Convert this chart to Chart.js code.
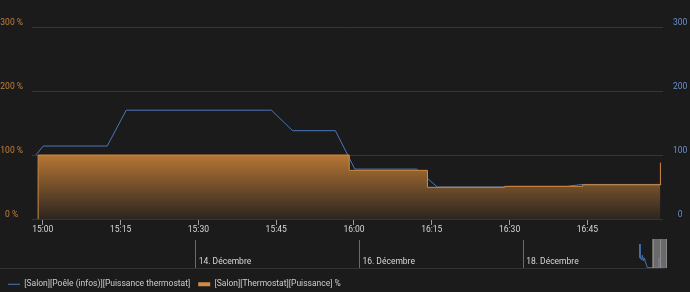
<!DOCTYPE html>
<html>
<head>
<meta charset="utf-8">
<script src="https://cdn.jsdelivr.net/npm/chart.js@4.4.1/dist/chart.umd.min.js"></script>
<style>
  html, body { margin: 0; padding: 0; background: #1b1b1b; overflow: hidden; }
  #wrap { position: relative; width: 690px; height: 292px; }
  #main { position: absolute; left: 0; top: 0; }
  #nav { position: absolute; left: 0; top: 236px; }
  #navLine { position: absolute; left: 0; top: 268px; width: 665px; height: 0; border-top: 1px solid #333; }
</style>
</head>
<body>
<div id="wrap">
  <div id="navLine"></div>
  <canvas id="main" width="690" height="292"></canvas>
  <canvas id="nav" width="690" height="36"></canvas>
</div>
<script>
        // Données (19 décembre)
        const blueLabel = '[Salon][Poêle (infos)][Puissance thermostat]';
        const blueTimes = ['14:58:40', '15:00:05', '15:12:25', '15:16:05', '15:44:05', '15:48:10', '15:56:25', '16:00:10', '16:12:05', '16:16:05', '16:28:30', '16:30:00', '16:41:00', '16:44:00', '16:59:15'];
        const blueValues = [100, 114, 114, 170, 170, 138, 138, 78, 78, 50, 50, 51, 51, 54, 54];

        const orangeLabel = '[Salon][Thermostat][Puissance] %';
        const orangeTimes = ['14:59:05', '14:59:06', '15:59:05', '16:14:10', '16:29:05', '16:44:05', '16:59:05'];
        const orangeValues = [0, 100, 76, 49.5, 51, 53.5, 88];

        const xMinTime = '14:57:55';
        const xMaxTime = '16:59:35';
        const tickLabels = ['15:00', '15:15', '15:30', '15:45', '16:00', '16:15', '16:30', '16:45'];
        const yTicks = [0, 100, 200, 300];

        // Navigateur (heures depuis le 12/12 00:00)
        const navStart = '12/12 00:00';
        const navEnd = '19/12 17:00';
        const navTickDays = ['14/12 00:00', '16/12 00:00', '18/12 00:00'];
        const navTickLabels = ['14. Décembre', '16. Décembre', '18. Décembre'];
        const navTimes = ['19/12 10:14', '19/12 10:15', '19/12 10:27', '19/12 10:45', '19/12 10:57', '19/12 11:15', '19/12 11:32', '19/12 11:50', '19/12 12:08', '19/12 12:25', '19/12 15:47', '19/12 15:49', '19/12 15:52', '19/12 16:58'];
        const navValues = [154, 64, 64, 51, 82, 47, 64, 39, 21, 2, 2, 66, 8, 8];
        const navDay = '19/12';

        const FONT = { family: 'Roboto', size: 8.5 };
        const BLUE = '#4a78bb';
        const ORANGE = '#d08b45';

        function toMin(t) {
            const [h, m, s] = t.split(':').map(Number);
            return h * 60 + m + (s || 0) / 60;
        }

        function toHours(str) {
            const [d, t] = str.split(' ');
            const day = parseInt(d.split('/')[0], 10);
            return (day - 12) * 24 + toMin(t) / 60;
        }

        const bluePoints = blueTimes.map((t, i) => ({ x: toMin(t), y: blueValues[i] }));
        const orangePoints = orangeTimes.map((t, i) => ({ x: toMin(t), y: orangeValues[i] }));

        const mainChart = new Chart(document.getElementById('main'), {
            type: 'line',
            data: {
                datasets: [{
                    label: blueLabel,
                    data: bluePoints,
                    yAxisID: 'y1',
                    borderColor: BLUE,
                    borderWidth: 1,
                    pointRadius: 0,
                    fill: false,
                    order: 2
                }, {
                    label: orangeLabel,
                    data: orangePoints,
                    yAxisID: 'y',
                    borderColor: ORANGE,
                    borderWidth: 1,
                    pointRadius: 0,
                    stepped: 'before',
                    fill: 'origin',
                    backgroundColor: (ctx) => {
                        const { chart } = ctx;
                        if (!chart.chartArea) return 'rgba(0,0,0,0)';
                        const y = chart.scales.y;
                        const g = chart.ctx.createLinearGradient(0, y.getPixelForValue(Math.max(...orangeValues)), 0, y.getPixelForValue(0));
                        g.addColorStop(0, 'rgb(182,118,52)');
                        g.addColorStop(1, 'rgb(44,37,31)');
                        return g;
                    },
                    order: 1
                }]
            },
            options: {
                responsive: false,
                animation: false,
                layout: { padding: { top: 27 } },
                scales: {
                    x: {
                        type: 'linear',
                        min: toMin(xMinTime),
                        max: toMin(xMaxTime),
                        afterBuildTicks: (axis) => {
                            axis.ticks = tickLabels.map(t => ({ value: toMin(t) }));
                        },
                        afterFit: (axis) => { axis.height = 53; },
                        grid: { drawOnChartArea: false, tickLength: 6, tickColor: '#9a9a9a' },
                        border: { display: false },
                        ticks: {
                            color: '#d8d8d8',
                            font: FONT,
                            padding: 0,
                            maxRotation: 0,
                            callback: (v, i) => tickLabels[i]
                        }
                    },
                    y: {
                        position: 'left',
                        min: 0,
                        max: 300,
                        afterBuildTicks: (axis) => { axis.ticks = yTicks.map(v => ({ value: v })); },
                        afterFit: (axis) => { axis.width = 32; },
                        grid: { color: '#363636', drawTicks: false },
                        border: { display: false },
                        ticks: {
                            color: '#c2813f',
                            font: FONT,
                            crossAlign: 'center',
                            padding: 9,
                            labelOffset: -4,
                            callback: (v) => v + ' %'
                        }
                    },
                    y1: {
                        position: 'right',
                        min: 0,
                        max: 300,
                        afterBuildTicks: (axis) => { axis.ticks = yTicks.map(v => ({ value: v })); },
                        afterFit: (axis) => { axis.width = 27; },
                        grid: { display: false, drawTicks: false },
                        border: { display: false },
                        ticks: {
                            color: '#6a90c8',
                            font: FONT,
                            crossAlign: 'center',
                            padding: 10,
                            labelOffset: -4
                        }
                    }
                },
                plugins: {
                    tooltip: { enabled: false },
                    legend: {
                        position: 'bottom',
                        align: 'start',
                        maxHeight: 20,
                        labels: {
                            color: '#cccccc',
                            font: FONT,
                            padding: 8,
                            usePointStyle: true,
                            pointStyleWidth: 12,
                            generateLabels: () => [
                                { text: blueLabel, pointStyle: 'line', strokeStyle: BLUE, lineWidth: 1, fillStyle: BLUE, fontColor: '#cccccc', datasetIndex: 0 },
                                { text: orangeLabel, pointStyle: 'line', strokeStyle: ORANGE, lineWidth: 4, fillStyle: ORANGE, fontColor: '#cccccc', datasetIndex: 1 }
                            ]
                        }
                    }
                }
            }
        });

        // Masque de sélection du navigateur
        const navMask = {
            id: 'navMask',
            afterDatasetsDraw(chart) {
                const x = chart.scales.x;
                const { top, bottom } = chart.chartArea;
                let a = x.getPixelForValue(toHours(navDay + ' ' + xMinTime));
                let b = x.getPixelForValue(toHours(navDay + ' ' + xMaxTime));
                const mid = (a + b) / 2;
                if (b - a < 15) { a = mid - 7.5; b = mid + 7.5; }
                const c = chart.ctx;
                c.save();
                c.fillStyle = 'rgba(128,128,128,0.78)';
                c.fillRect(a, top - 1, b - a, bottom - top + 1);
                c.strokeStyle = '#8c8c8c';
                c.lineWidth = 1;
                [a + 1.5, Math.round(mid) + 0.5, b - 0.5].forEach(px => {
                    c.beginPath();
                    c.moveTo(px, top - 1);
                    c.lineTo(px, bottom);
                    c.stroke();
                });
                c.restore();
            }
        };

        const navChart = new Chart(document.getElementById('nav'), {
            type: 'line',
            data: {
                datasets: [{
                    data: navTimes.map((t, i) => ({ x: toHours(t), y: navValues[i] })),
                    borderColor: BLUE,
                    borderWidth: 1,
                    pointRadius: 0,
                    fill: false
                }]
            },
            options: {
                responsive: false,
                animation: false,
                layout: { padding: { left: 32, right: 27, top: 4, bottom: 4 } },
                scales: {
                    x: {
                        type: 'linear',
                        min: toHours(navStart),
                        max: toHours(navEnd),
                        afterBuildTicks: (axis) => {
                            axis.ticks = navTickDays.map(d => ({ value: toHours(d) }));
                        },
                        afterFit: (axis) => { axis.height = 0; },
                        grid: { color: '#6a6a6a', drawTicks: false },
                        border: { display: false },
                        ticks: {
                            color: '#d8d8d8',
                            font: FONT,
                            align: 'start',
                            mirror: true,
                            labelOffset: 3,
                            padding: 1,
                            maxRotation: 0,
                            autoSkip: false,
                            callback: (v, i) => navTickLabels[i]
                        }
                    },
                    y: { display: false, min: 0, max: 180 }
                },
                plugins: { legend: { display: false }, tooltip: { enabled: false } }
            },
            plugins: [navMask]
        });
</script>
</body>
</html>
